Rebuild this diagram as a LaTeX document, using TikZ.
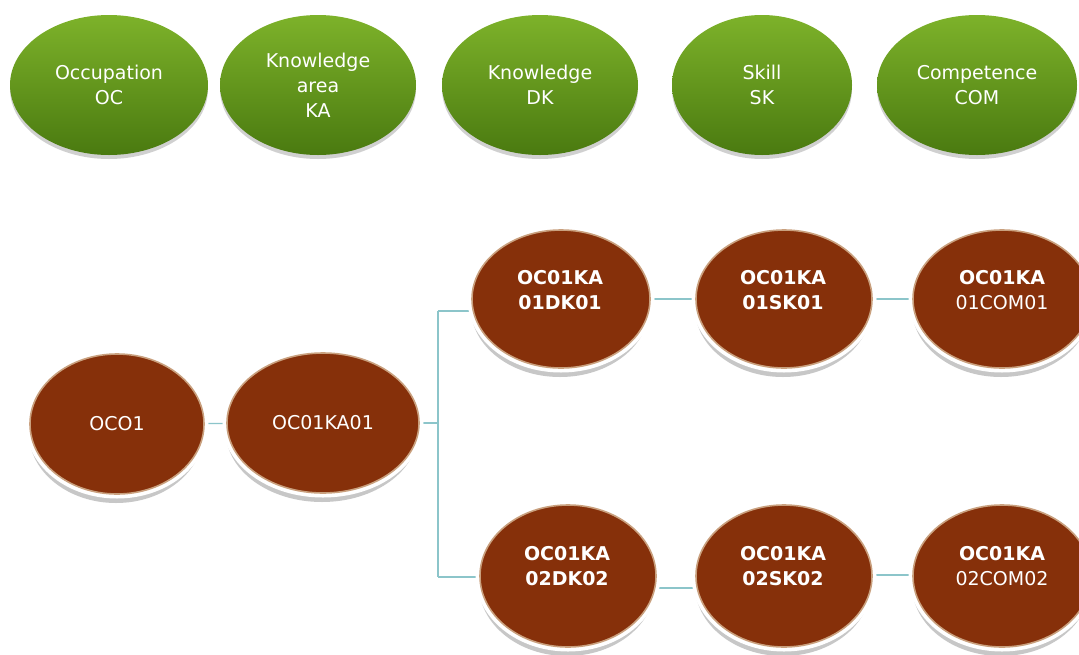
\documentclass[tikz,border=0pt]{standalone}
\usepackage{fontspec}
\setmainfont{DejaVu Sans}
\usetikzlibrary{shapes.geometric,shadows,backgrounds}
\definecolor{gtop}{HTML}{7DB22A}
\definecolor{gbot}{HTML}{4A7A10}
\definecolor{brn}{HTML}{86300A}
\definecolor{rimc}{HTML}{C9A07E}
\definecolor{linkc}{HTML}{8CC5CA}
\tikzset{
  catnode/.style={ellipse, inner sep=0pt, top color=gtop, bottom color=gbot, draw=none,
    text=white, font=\fontsize{19}{25}\selectfont, align=center,
    drop shadow={shadow xshift=0pt, shadow yshift=-4pt, opacity=0.3, fill=black!60}},
  brownell/.style={ellipse, inner sep=0pt, fill=brn, draw=rimc, line width=1.6pt,
    drop shadow={shadow xshift=-1pt, shadow yshift=-9pt, opacity=0.4, fill=black!55},
    preaction={draw=white, line width=9pt},
    text=white, font=\fontsize{19}{25}\selectfont, align=center},
  brtext/.style={text=white, font=\fontsize{19}{25}\selectfont, align=center, inner sep=0pt},
  conn/.style={draw=linkc, line width=1.2pt},
}
\begin{document}
\begin{tikzpicture}[x=1pt,y=-1pt]
\useasboundingbox (0,0) rectangle (1079,654);
% category row
\node[catnode, minimum width=198pt, minimum height=140pt] (occ) at (109,85) {Occupation\\OC};
\node[catnode, minimum width=196pt, minimum height=140pt] (ka) at (318,85) {Knowledge\\area\\KA};
\node[catnode, minimum width=196pt, minimum height=140pt] (dk) at (540,85) {Knowledge\\DK};
\node[catnode, minimum width=180pt, minimum height=140pt] (sk) at (762,85) {Skill\\SK};
\node[catnode, minimum width=200pt, minimum height=140pt] (com) at (977,85) {Competence\\COM};
% tree
\node[brownell, minimum width=174pt, minimum height=140pt] (oc1) at (117,424) {OCO1};
\node[brownell, minimum width=192pt, minimum height=140pt] (ka1) at (323,423) {OC01KA01};
\node[brownell, minimum width=178pt, minimum height=138pt] (dk1) at (561,299) {};
\node[brownell, minimum width=176pt, minimum height=138pt] (sk1) at (784,299) {};
\node[brownell, minimum width=178pt, minimum height=138pt] (com1) at (1002,299) {};
\node[brownell, minimum width=176pt, minimum height=142pt] (dk2) at (568,576) {};
\node[brownell, minimum width=176pt, minimum height=142pt] (sk2) at (784,576) {};
\node[brownell, minimum width=178pt, minimum height=142pt] (com2) at (1002,576) {};
\node[brtext] (dk1t) at (560,290) {\bfseries OC01KA\\\bfseries 01DK01};
\node[brtext] (sk1t) at (783,290) {\bfseries OC01KA\\\bfseries 01SK01};
\node[brtext] (com1t) at (1002,290) {\bfseries OC01KA\\01COM01};
\node[brtext] (dk2t) at (567,566) {\bfseries OC01KA\\\bfseries 02DK02};
\node[brtext] (sk2t) at (783,566) {\bfseries OC01KA\\\bfseries 02SK02};
\node[brtext] (com2t) at (1002,566) {\bfseries OC01KA\\02COM02};
\coordinate (jm) at (438,423);
\coordinate (jt) at (438,311);
\coordinate (jb) at (438,577);
\begin{pgfonlayer}{background}
  \fill[white] (0,0) rectangle (1079,654);
  \draw[conn] (oc1.center) -- (ka1.center);
  \draw[conn] (ka1.center) -- (jm);
  \draw[conn] (jt) -- (jb);
  \draw[conn] (jt) -- (jt -| dk1.center);
  \draw[conn] (jb) -- (jb -| dk2.center);
  \draw[conn] (dk1.center) -- (sk1.center);
  \draw[conn] (sk1.center) -- (com1.center);
  \draw[conn] ([yshift=-12pt]dk2.center) -- ([yshift=-12pt]sk2.center);
  \draw[conn] ([yshift=1pt]sk2.center) -- ([yshift=1pt]com2.center);
\end{pgfonlayer}
\end{tikzpicture}
\end{document}
